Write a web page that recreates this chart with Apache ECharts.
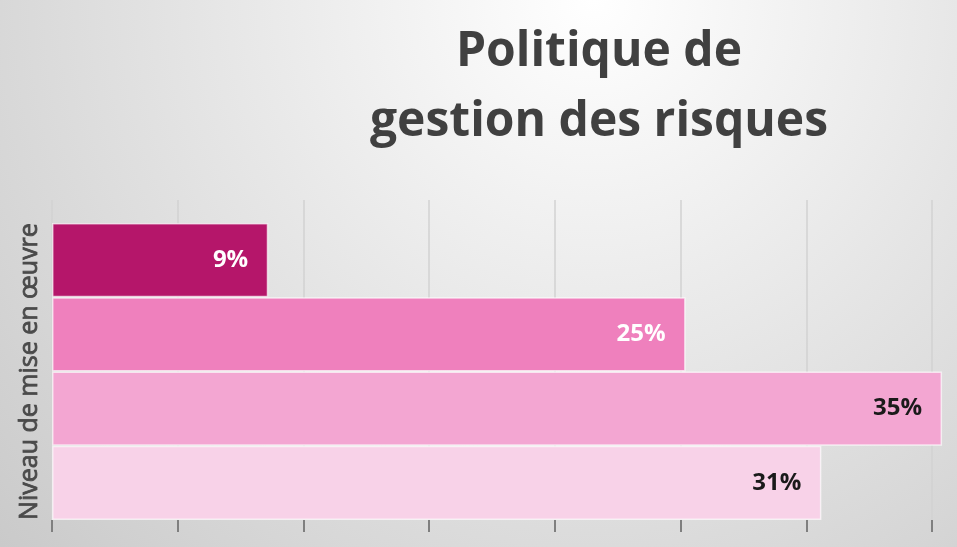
<!DOCTYPE html>
<html>
<head>
<meta charset="utf-8">
<script src="https://cdn.jsdelivr.net/npm/echarts@6/dist/echarts.min.js"></script>
<style>
html,body{margin:0;padding:0;}
#chart{width:957px;height:547px;}
</style>
</head>
<body>
<div id="chart"></div>
<script>
// Data
const categories = ['Niveau 1', 'Niveau 2', 'Niveau 3', 'Niveau 4'];
const values = [8.6, 25.2, 35.4, 30.6];
const labels = ['9%', '25%', '35%', '31%'];
const barColors = ['#B5166A', '#EF80BD', '#F3A6D2', '#F8D2E8'];
const labelColors = ['#ffffff', '#ffffff', '#1a1a1a', '#1a1a1a'];

const chart = echarts.init(document.getElementById('chart'));
const axisCommon = {
  type: 'value', min: 0, max: 35, interval: 5,
  axisLabel: { show: false },
  axisLine: { show: false },
  splitLine: { show: true, lineStyle: { color: '#d2d2d2', width: 1.5 } }
};
chart.setOption({
  backgroundColor: {
    type: 'radial', x: 0.62, y: 0.0, r: 1.5,
    colorStops: [
      { offset: 0, color: '#ffffff' },
      { offset: 1, color: '#c9c9c9' }
    ]
  },
  title: {
    text: 'Politique de\ngestion des risques',
    left: 594, top: 12, textAlign: 'center',
    textStyle: { fontFamily: 'Open Sans', fontWeight: 'bold', fontSize: 48, lineHeight: 70, color: '#404040' }
  },
  grid: [
    { left: 52, right: 25, top: 223, bottom: 27 },
    { left: 52, right: 25, top: 200, height: 23 }
  ],
  xAxis: [
    Object.assign({}, axisCommon, {
      gridIndex: 0,
      axisTick: { show: true, length: 12, lineStyle: { color: '#7f7f7f', width: 2 } }
    }),
    Object.assign({}, axisCommon, { gridIndex: 1, axisTick: { show: false } })
  ],
  yAxis: [
    {
      type: 'category', gridIndex: 0, data: categories, inverse: true,
      axisLine: { show: false }, axisTick: { show: false }, axisLabel: { show: false },
      name: 'Niveau de mise en œuvre', nameLocation: 'middle', nameGap: 10,
      nameTextStyle: { fontFamily: 'Open Sans', fontSize: 25, color: '#4a4a4a',
        textBorderColor: '#4a4a4a', textBorderWidth: 0.8 }
    },
    { type: 'value', gridIndex: 1, min: 0, max: 1, show: false }
  ],
  series: [{
    type: 'bar', xAxisIndex: 0, yAxisIndex: 0,
    barCategoryGap: 0, clip: false,
    data: values.map((v, i) => ({
      value: v,
      itemStyle: { color: barColors[i], borderColor: 'rgba(255,255,255,0.65)', borderWidth: 1.5 },
      label: { color: labelColors[i] }
    })),
    label: {
      show: true, position: 'insideRight', distance: 20,
      fontFamily: 'Open Sans', fontWeight: 'bold', fontSize: 24,
      formatter: p => labels[p.dataIndex]
    }
  }]
});
</script>
</body>
</html>
